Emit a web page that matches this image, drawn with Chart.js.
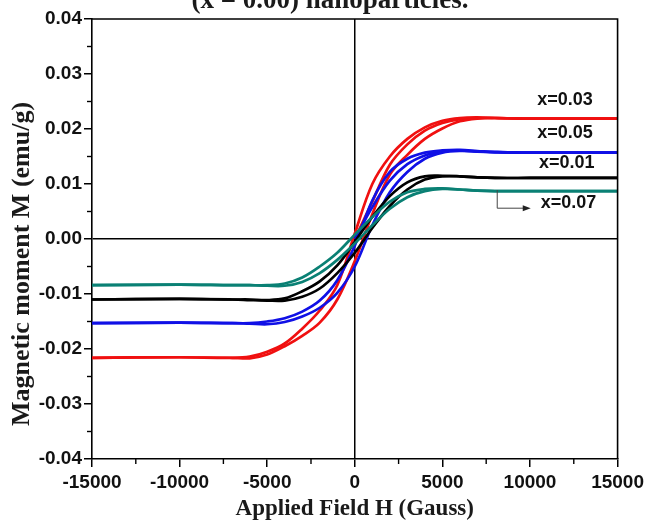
<!DOCTYPE html>
<html>
<head>
<meta charset="utf-8">
<script src="https://cdn.jsdelivr.net/npm/chart.js@4.4.1/dist/chart.umd.min.js"></script>
<style>
  html, body { margin: 0; padding: 0; background: #ffffff; }
  #wrap { width: 648px; height: 521px; }
</style>
</head>
<body>
<div id="wrap"><canvas id="c" width="648" height="521"></canvas></div>
<script>
// ---- Data ----
const fieldLoop = [-15000,-10000,-7000,-6000,-5000,-4000,-3000,-2000,-1000,0,1000,2000,3000,4000,5000,6000,7000,8000,10000,15000];
const fieldVirgin = [0,1000,2000,3000,4000,5000,6000,7000,8000,10000,15000];

const seriesNames = ['x=0.03','x=0.05','x=0.01','x=0.07'];

const red_up   = [-0.0216,-0.0215,-0.0216,-0.0217,-0.0210,-0.0195,-0.0176,-0.0152,-0.0110,-0.0040,0.0045,0.0117,0.0153,0.0182,0.0201,0.0214,0.0219,0.0220,0.0219,0.0219];
const red_down = [-0.0216,-0.0215,-0.0216,-0.0214,-0.0205,-0.0190,-0.0163,-0.0130,-0.0084,0.0010,0.0100,0.0150,0.0182,0.0203,0.0215,0.0220,0.0221,0.0220,0.0219,0.0219];
const red_virgin = [0.0000,0.0068,0.0135,0.0172,0.0197,0.0211,0.0218,0.0220,0.0220,0.0219,0.0219];

const blue_up   = [-0.0153,-0.0152,-0.0153,-0.0154,-0.0155,-0.0151,-0.0141,-0.0125,-0.0098,-0.0050,0.0025,0.0085,0.0122,0.0146,0.0157,0.0160,0.0159,0.0158,0.0157,0.0157];
const blue_down = [-0.0153,-0.0152,-0.0153,-0.0153,-0.0150,-0.0144,-0.0132,-0.0112,-0.0075,-0.0012,0.0070,0.0122,0.0146,0.0157,0.0161,0.0162,0.0160,0.0158,0.0157,0.0157];
const blue_virgin = [0.0000,0.0058,0.0106,0.0136,0.0152,0.0159,0.0161,0.0159,0.0158,0.0157,0.0157];

const black_up   = [-0.0110,-0.0109,-0.0110,-0.0111,-0.0112,-0.0112,-0.0105,-0.0090,-0.0062,-0.0025,0.0020,0.0060,0.0090,0.0108,0.0114,0.0114,0.0112,0.0111,0.0111,0.0111];
const black_down = [-0.0110,-0.0109,-0.0110,-0.0110,-0.0111,-0.0108,-0.0095,-0.0077,-0.0048,-0.0005,0.0040,0.0078,0.0103,0.0114,0.0115,0.0114,0.0112,0.0111,0.0111,0.0111];

const teal_up   = [-0.0084,-0.0083,-0.0084,-0.0084,-0.0085,-0.0085,-0.0078,-0.0062,-0.0038,-0.0008,0.0025,0.0055,0.0076,0.0087,0.0091,0.0090,0.0088,0.0087,0.0087,0.0087];
const teal_down = [-0.0084,-0.0083,-0.0084,-0.0084,-0.0084,-0.0081,-0.0070,-0.0050,-0.0025,0.0008,0.0040,0.0068,0.0085,0.0091,0.0092,0.0090,0.0088,0.0087,0.0087,0.0087];

// label anchor positions in data units (H, M)
const labelH = [12000, 12000, 12100, 12200];
const labelM = [0.0253, 0.0192, 0.0139, 0.0065];
// small pointer arrow near x=0.07 (data units)
const arrowH = [8130, 8130, 9700];
const arrowM = [0.0089, 0.0056, 0.0056];

const xTickLabels = ['-15000','-10000','-5000','0','5000','10000','15000'];
const yTickLabels = ['-0.04','-0.03','-0.02','-0.01','0.00','0.01','0.02','0.03','0.04'];

// ---- Build datasets ----
const COL = { red: '#f01010', blue: '#1010e6', black: '#000000', teal: '#0a8074' };
function pts(xs, ys) { return xs.map((x, i) => ({ x: x, y: ys[i] })); }
function ds(xs, ys, color) {
  return {
    data: pts(xs, ys), showLine: true, borderColor: color, backgroundColor: color,
    borderWidth: 2.7, pointRadius: 0, fill: false, tension: 0.35,
    cubicInterpolationMode: 'default'
  };
}
const datasets = [
  ds(fieldLoop, teal_up, COL.teal), ds(fieldLoop, teal_down, COL.teal),
  ds(fieldLoop, black_up, COL.black), ds(fieldLoop, black_down, COL.black),
  ds(fieldLoop, blue_up, COL.blue), ds(fieldLoop, blue_down, COL.blue), ds(fieldVirgin, blue_virgin, COL.blue),
  ds(fieldLoop, red_up, COL.red), ds(fieldLoop, red_down, COL.red), ds(fieldVirgin, red_virgin, COL.red)
];

const SANS = '"Liberation Sans", Arial, Helvetica, sans-serif';
const SERIF = '"Liberation Serif", "Times New Roman", Times, serif';

function isMajorY(v) { return Math.abs(Math.round(v * 1000)) % 10 === 0; }
function isMajorX(v) { return Math.round(v) % 5000 === 0; }

const decor = {
  id: 'decor',
  afterDraw(chart) {
    const ctx = chart.ctx, a = chart.chartArea;
    const xs = chart.scales.x, ys = chart.scales.y;
    ctx.save();
    // frame top and right
    ctx.strokeStyle = '#000'; ctx.lineWidth = 1.6;
    ctx.beginPath();
    ctx.moveTo(a.left, a.top); ctx.lineTo(a.right, a.top); ctx.lineTo(a.right, a.bottom);
    ctx.stroke();
    // minor ticks
    ctx.lineWidth = 1.4;
    ys.ticks.forEach(t => {
      if (!isMajorY(t.value)) {
        const p = ys.getPixelForValue(t.value);
        ctx.beginPath(); ctx.moveTo(a.left - 5, p); ctx.lineTo(a.left, p); ctx.stroke();
      }
    });
    xs.ticks.forEach(t => {
      if (!isMajorX(t.value)) {
        const p = xs.getPixelForValue(t.value);
        ctx.beginPath(); ctx.moveTo(p, a.bottom); ctx.lineTo(p, a.bottom + 5); ctx.stroke();
      }
    });
    // series labels
    ctx.fillStyle = '#111';
    ctx.font = 'bold 18px ' + SANS;
    ctx.textAlign = 'center'; ctx.textBaseline = 'middle';
    seriesNames.forEach((n, i) => {
      ctx.fillText(n, xs.getPixelForValue(labelH[i]), ys.getPixelForValue(labelM[i]));
    });
    // pointer arrow
    ctx.strokeStyle = '#444'; ctx.lineWidth = 1;
    ctx.beginPath();
    arrowH.forEach((h, i) => {
      const px = xs.getPixelForValue(h), py = ys.getPixelForValue(arrowM[i]);
      if (i === 0) ctx.moveTo(px, py); else ctx.lineTo(px, py);
    });
    ctx.stroke();
    const ex = xs.getPixelForValue(arrowH[2]), ey = ys.getPixelForValue(arrowM[2]);
    ctx.fillStyle = '#222';
    ctx.beginPath(); ctx.moveTo(ex + 6, ey); ctx.lineTo(ex - 2, ey - 3); ctx.lineTo(ex - 2, ey + 3); ctx.closePath(); ctx.fill();
    // axis titles
    ctx.fillStyle = '#1a1a1a';
    ctx.font = 'bold 23px ' + SERIF;
    ctx.textAlign = 'center'; ctx.textBaseline = 'middle';
    ctx.fillText('Applied Field H (Gauss)', (a.left + a.right) / 2, 509);
    ctx.save();
    ctx.translate(22, 264); ctx.rotate(-Math.PI / 2);
    ctx.font = 'bold 26px ' + SERIF;
    ctx.fillText('Magnetic moment M (emu/g)', 0, 0);
    ctx.restore();
    // clipped caption at top
    ctx.font = 'bold 27px ' + SERIF;
    ctx.textBaseline = 'alphabetic';
    ctx.fillText('(x = 0.00) nanoparticles.', 330, 8);
    ctx.restore();
  }
};

new Chart(document.getElementById('c'), {
  type: 'scatter',
  data: { datasets: datasets },
  options: {
    responsive: false, animation: false, devicePixelRatio: 1,
    layout: { padding: { left: 0, top: 19, right: 28, bottom: 0 } },
    plugins: { legend: { display: false }, tooltip: { enabled: false }, title: { display: false } },
    scales: {
      x: {
        type: 'linear', position: 'bottom', min: -15000, max: 15000,
        afterFit: s => { s.height = 62; },
        border: { display: true, color: '#000', width: 1.6 },
        grid: {
          drawOnChartArea: true, drawTicks: true, tickLength: 8,
          color: c => (c.tick && Math.abs(c.tick.value) < 1e-6) ? '#000' : 'rgba(0,0,0,0)',
          lineWidth: 1.5,
          tickColor: c => (c.tick && isMajorX(c.tick.value)) ? '#000' : 'rgba(0,0,0,0)',
          tickWidth: 1.5
        },
        ticks: {
          stepSize: 2500, autoSkip: false, maxRotation: 0, padding: 4,
          color: '#111', font: { family: SANS, size: 19, weight: 'bold' },
          callback: v => isMajorX(v) ? xTickLabels[Math.round((v + 15000) / 5000)] : ''
        }
      },
      y: {
        type: 'linear', position: 'left', min: -0.04, max: 0.04,
        afterFit: s => { s.width = 92; },
        border: { display: true, color: '#000', width: 1.6 },
        grid: {
          drawOnChartArea: true, drawTicks: true, tickLength: 8,
          color: c => (c.tick && Math.abs(c.tick.value) < 1e-9) ? '#000' : 'rgba(0,0,0,0)',
          lineWidth: 1.5,
          tickColor: c => (c.tick && isMajorY(c.tick.value)) ? '#000' : 'rgba(0,0,0,0)',
          tickWidth: 1.5
        },
        ticks: {
          stepSize: 0.005, autoSkip: false, padding: 2,
          color: '#111', font: { family: SANS, size: 19, weight: 'bold' },
          callback: v => isMajorY(v) ? yTickLabels[Math.round((v + 0.04) * 100)] : ''
        }
      }
    }
  },
  plugins: [decor]
});
</script>
</body>
</html>
